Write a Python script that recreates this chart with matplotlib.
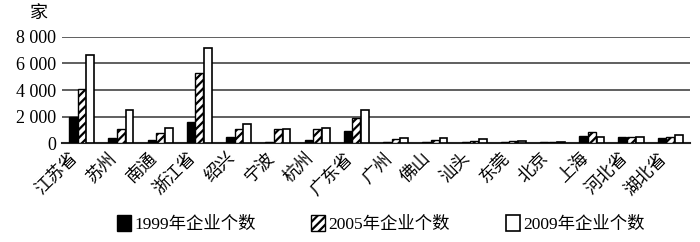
import matplotlib
matplotlib.use("Agg")
import matplotlib.pyplot as plt
import numpy as np
from matplotlib.patches import Patch

plt.rcParams['font.family'] = ['Liberation Serif', 'Noto Sans CJK SC', 'DejaVu Sans']
plt.rcParams['hatch.linewidth'] = 1.6

categories = ['江苏省', '苏州', '南通', '浙江省', '绍兴', '宁波', '杭州', '广东省',
              '广州', '佛山', '汕头', '东莞', '北京', '上海', '河北省', '湖北省']
y1999 = [2000, 380, 250, 1630, 450, 130, 250, 950, 120, 120, 100, 100, 80, 550, 450, 380]
y2005 = [4100, 1050, 800, 5260, 1050, 1050, 1050, 1900, 300, 250, 150, 200, 100, 880, 500, 500]
y2009 = [6640, 2500, 1180, 7140, 1480, 1100, 1130, 2500, 370, 420, 300, 200, 100, 450, 500, 650]
series_labels = ['1999年企业个数', '2005年企业个数', '2009年企业个数']
yticks = [0, 2000, 4000, 6000, 8000]
ytick_labels = ['0', '2 000', '4 000', '6 000', '8 000']

fig = plt.figure(figsize=(7.0, 2.42), dpi=100)
ax = fig.add_axes([0.0886, 0.408, 0.897, 0.440])

x = np.arange(len(categories))
w = 0.2
off = 0.22
ax.bar(x - off, y1999, w, color='black', edgecolor='black', linewidth=1.0, zorder=3)
ax.bar(x, y2005, w, color='white', edgecolor='black', hatch='////', linewidth=1.0, zorder=3)
ax.bar(x + off, y2009, w, color='white', edgecolor='black', linewidth=1.2, zorder=3)

ax.set_xlim(-0.5, len(categories) - 0.5)
ax.set_ylim(0, 8000)
ax.set_yticks(yticks)
ax.set_yticklabels(ytick_labels, fontsize=13)
ax.yaxis.grid(True, color='#444444', linewidth=1.2, zorder=0)
ax.set_axisbelow(True)
for s in ['left', 'right', 'top']:
    ax.spines[s].set_visible(False)
ax.spines['bottom'].set_linewidth(1.5)
ax.spines['bottom'].set_color('#222222')
ax.tick_params(axis='y', length=0, pad=4)
ax.tick_params(axis='x', length=0, pad=5)
ax.set_xticks(x)
ax.set_xticklabels(categories, rotation=45, ha='right', va='top',
                   rotation_mode='default', fontsize=12.5)

fig.text(0.055, 0.945, '家', fontsize=13, ha='center', va='center')

handles = [Patch(facecolor='black', edgecolor='black'),
           Patch(facecolor='white', edgecolor='black', hatch='////'),
           Patch(facecolor='white', edgecolor='black', linewidth=1.2)]
fig.legend(handles, series_labels, loc='center', bbox_to_anchor=(0.544, 0.075),
           ncol=3, frameon=False, fontsize=12.5, handlelength=0.8, handleheight=1.0,
           handletextpad=0.2, columnspacing=3.2)

fig.savefig('out.png', dpi=100)
